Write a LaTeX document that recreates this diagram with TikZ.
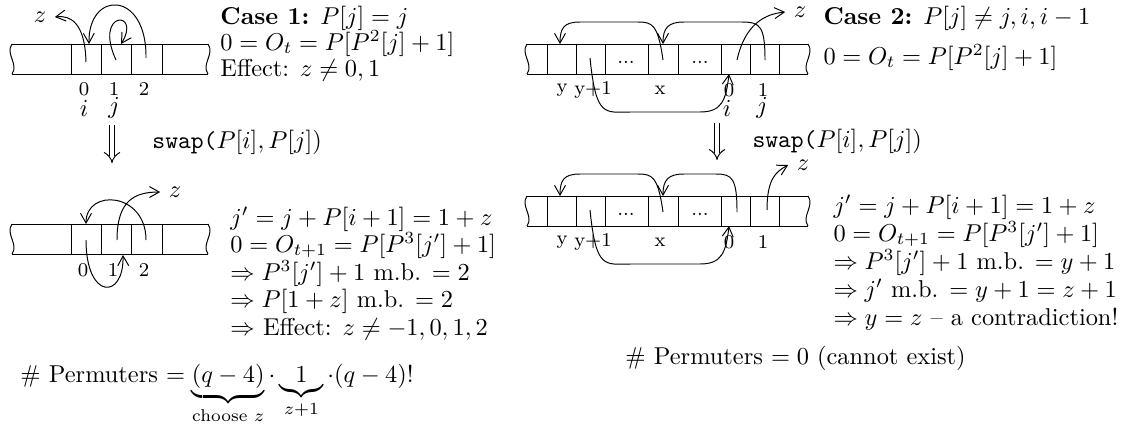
\documentclass[tikz,border=0pt]{standalone}
\usepackage{amsmath,amssymb}
\usetikzlibrary{arrows.meta,positioning}

% a piece of tape: left x, right x, top y (cells are 30 high)
\newcommand{\tape}[3]{%
  \draw (#1,#3) -- (#2,#3) (#1,#3+30) -- (#2,#3+30);
  \draw (#1,#3) .. controls (#1-7,#3+10) and (#1+7,#3+20) .. (#1,#3+30);
  \draw (#2,#3) .. controls (#2+7,#3+10) and (#2-7,#3+20) .. (#2,#3+30);
}

\begin{document}
\begin{tikzpicture}[x=0.41pt,y=-0.41pt,
  ptr/.style={-{Straight Barb[length=4pt,width=4.5pt]}},
  swaparrow/.style={double,double distance=2pt,-{Implies}},
  idx/.style={font=\footnotesize,inner sep=1pt},
  txt/.style={anchor=base west,inner sep=0pt}]
\useasboundingbox (0,0) rectangle (1124,434);

% Case 1, before the swap
\tape{12}{208}{44}
\foreach \x in {71,101,131,162} \draw (\x,44) -- (\x,74);
\node (z1) at (40,17) {$z$};
\coordinate (a0) at (86,62);
\coordinate (a0t) at (89,44);
\coordinate (a1) at (116,60);
\coordinate (a1t) at (121,44);
\coordinate (a2) at (146,58);
\draw[ptr] (a0) .. controls (85,22) and (70,15) .. (z1.east);
\draw[ptr] (a1) .. controls (93,10) and (142,10) .. (a1t);
\draw[ptr] (a2) .. controls (147,-10) and (88,-10) .. (a0t);
\node[idx] (n10) at (84,89) {0};
\node[idx] (n11) at (114,89) {1};
\node[idx] (n12) at (144,89) {2};
\node (i1) at (84,108) {$i$};
\node (j1) at (114,108) {$j$};
\node[txt] (c1h) at (220,24) {\textbf{Case 1:} $P[j]=j$};
\node[txt] (c1o) at (220,50) {$0=O_t=P[P^2[j]+1]$};
\node[txt] (c1e) at (220,76) {Effect: $z\neq 0,1$};

% swap
\coordinate (s1t) at (112,125);
\coordinate (s1b) at (112,163);
\draw[swaparrow] (s1t) -- (s1b);
\node[txt] (w1) at (152,148) {\texttt{swap(}$P[i],P[j]$)};

% Case 1, after the swap
\tape{12}{208}{224}
\foreach \x in {71,101,131,162} \draw (\x,224) -- (\x,254);
\node (z2) at (175,192) {$z$};
\coordinate (b0) at (86,240);
\coordinate (b0t) at (86,224);
\coordinate (b1) at (117,240);
\coordinate (b1b) at (123,255);
\coordinate (b2) at (146,240);
\draw[ptr] (b2) .. controls (146,192) and (86,188) .. (b0t);
\draw[ptr] (b1) .. controls (117,200) and (135,192) .. (z2.west);
\draw[ptr] (b0) .. controls (86,300) and (124,300) .. (b1b);
\node[idx] (n20) at (83,270) {0};
\node[idx] (n21) at (113,270) {1};
\node[idx] (n22) at (144,270) {2};
\node[txt] (c1l1) at (230,225) {$j'=j+P[i+1]=1+z$};
\node[txt] (c1l2) at (230,252) {$0=O_{t+1}=P[P^3[j']+1]$};
\node[txt] (c1l3) at (230,280) {$\Rightarrow P^3[j']+1$ m.b. $=2$};
\node[txt] (c1l4) at (230,307) {$\Rightarrow P[1+z]$ m.b. $=2$};
\node[txt] (c1l5) at (230,335) {$\Rightarrow$ Effect: $z\neq -1,0,1,2$};
\node[txt] (perm1) at (20,382) {\# Permuters $=\underbrace{(q-4)}_{\text{choose }z}\cdot\underbrace{\enspace1\enspace}_{z+1}\cdot(q-4)!$};

% Case 2, before the swap
\tape{527}{808}{44}
\foreach \x in {547,576,605,648,678,721,750,779} \draw (\x,44) -- (\x,74);
\node (z3) at (800,12) {$z$};
\coordinate (d1) at (590,58);
\coordinate (dx) at (663,60);
\coordinate (dxt) at (663,44);
\coordinate (dyt) at (560,44);
\coordinate (d0) at (737,60);
\coordinate (d0b) at (729,74);
\coordinate (d1c) at (765,60);
\draw[ptr] (dx) .. controls (658,24) and (652,22) .. (638,22) -- (580,22) .. controls (564,22) and (560,28) .. (dyt);
\draw[ptr] (d1c) .. controls (765,26) and (760,22) .. (742,22) -- (684,22) .. controls (668,22) and (663,28) .. (dxt);
\draw[ptr] (d0) .. controls (745,24) and (765,14) .. (z3.west);
\draw[ptr] (d1) .. controls (596,118) and (605,112) .. (630,112) -- (700,112) .. controls (722,112) and (726,100) .. (d0b);
\node[idx] (dots1) at (626,62) {...};
\node[idx] (dots2) at (700,62) {...};
\node[idx] (m1) at (562,90) {y};
\node[idx] (m2) at (593,90) {y+1};
\node[idx] (m3) at (660,90) {x};
\node[idx] (m4) at (729,90) {0};
\node[idx] (m5) at (763,90) {1};
\node (i2) at (727,108) {$i$};
\node (j2) at (762,108) {$j$};
\node[txt] (c2h) at (823,24) {\textbf{Case 2:} $P[j]\neq j,i,i-1$};
\node[txt] (c2o) at (823,64) {$0=O_t=P[P^2[j]+1]$};

% swap
\coordinate (s2t) at (717,123);
\coordinate (s2b) at (717,160);
\draw[swaparrow] (s2t) -- (s2b);
\node[txt] (w2) at (752,147) {\texttt{swap(}$P[i],P[j]$)};

% Case 2, after the swap
\tape{527}{808}{196}
\foreach \x in {547,576,605,648,678,721,750,779} \draw (\x,196) -- (\x,226);
\node (z4) at (803,165) {$z$};
\coordinate (e1) at (590,210);
\coordinate (ex) at (663,212);
\coordinate (ext) at (663,196);
\coordinate (eyt) at (560,196);
\coordinate (e0) at (737,212);
\coordinate (e0b) at (729,226);
\coordinate (e1c) at (767,210);
\draw[ptr] (ex) .. controls (658,176) and (652,174) .. (638,174) -- (580,174) .. controls (564,174) and (560,180) .. (eyt);
\draw[ptr] (e0) .. controls (737,178) and (732,174) .. (716,174) -- (684,174) .. controls (668,174) and (663,180) .. (ext);
\draw[ptr] (e1c) .. controls (767,180) and (775,172) .. (z4.west);
\draw[ptr] (e1) .. controls (596,270) and (605,264) .. (630,264) -- (700,264) .. controls (722,264) and (726,252) .. (e0b);
\node[idx] (dots3) at (626,214) {...};
\node[idx] (dots4) at (700,214) {...};
\node[idx] (k1) at (562,242) {y};
\node[idx] (k2) at (593,242) {y+1};
\node[idx] (k3) at (660,242) {x};
\node[idx] (k4) at (729,242) {0};
\node[idx] (k5) at (763,242) {1};
\node[txt] (c2l1) at (833,213) {$j'=j+P[i+1]=1+z$};
\node[txt] (c2l2) at (833,241) {$0=O_{t+1}=P[P^3[j']+1]$};
\node[txt] (c2l3) at (833,269) {$\Rightarrow P^3[j']+1$ m.b. $=y+1$};
\node[txt] (c2l4) at (833,297) {$\Rightarrow j'$ m.b. $=y+1=z+1$};
\node[txt] (c2l5) at (833,325) {$\Rightarrow y=z$ -- a contradiction!};
\node[txt] (perm2) at (625,364) {\# Permuters $=0$ (cannot exist)};
\end{tikzpicture}
\end{document}
